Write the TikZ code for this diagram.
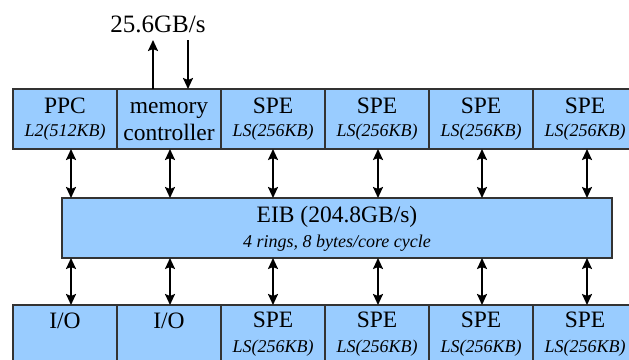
\documentclass[tikz,border=0pt]{standalone}
\usepackage{fontspec}
\setmainfont{Liberation Serif}
\usetikzlibrary{arrows.meta}
\definecolor{boxblue}{HTML}{99CCFF}
\definecolor{edgegray}{HTML}{333333}
\begin{document}
\begin{tikzpicture}[x=1pt,y=-1pt,
  box/.style={draw=edgegray,fill=boxblue,line width=1.2pt,minimum width=104pt,minimum height=60pt,inner sep=0pt,outer sep=0pt,anchor=north west},
  big/.style={font=\fontsize{23.5}{23.5}\selectfont,anchor=base,inner sep=0pt},
  huge/.style={font=\fontsize{25}{25}\selectfont,anchor=base,inner sep=0pt},
  small/.style={font=\fontsize{18}{18}\selectfont\itshape,anchor=base,inner sep=0pt},
  tipd/.tip={Stealth[length=11pt,width=10pt,inset=2pt]},
  dbl/.style={line width=2pt,tipd-tipd},
  sgl/.style={line width=2pt,-tipd}]
\useasboundingbox (0,0) rectangle (629,359);
\fill[white] (0,0) rectangle (629,359);
\clip (0,0) rectangle (629,359);
% top row
\node[box] (p1) at (13,89) {};
\node[box] (p2) at (117,89) {};
\node[box] (p3) at (221,89) {};
\node[box] (p4) at (325,89) {};
\node[box] (p5) at (429,89) {};
\node[box] (p6) at (533,89) {};
% EIB
\node[box,minimum width=550pt] (eib) at (62,198) {};
% bottom row
\node[box] (b1) at (13,305) {};
\node[box] (b2) at (117,305) {};
\node[box] (b3) at (221,305) {};
\node[box] (b4) at (325,305) {};
\node[box] (b5) at (429,305) {};
\node[box] (b6) at (533,305) {};
% top labels
\node[big] (t1) at (65,113) {PPC};
\node[small] (s1) at (65,136) {L2(512KB)};
\node[big] (t2) at (169,113) {memory};
\node[big] (s2) at (169,140) {controller};
\node[big] (t3) at (273,113) {SPE};
\node[small] (s3) at (273,136) {LS(256KB)};
\node[big] (t4) at (377,113) {SPE};
\node[small] (s4) at (377,136) {LS(256KB)};
\node[big] (t5) at (481,113) {SPE};
\node[small] (s5) at (481,136) {LS(256KB)};
\node[big] (t6) at (585,113) {SPE};
\node[small] (s6) at (585,136) {LS(256KB)};
% EIB labels
\node[big] (te) at (337,222) {EIB (204.8GB/s)};
\node[small] (se) at (337,247) {4 rings, 8 bytes/core cycle};
% bottom labels
\node[big] (u1) at (65,328) {I/O};
\node[big] (u2) at (169,328) {I/O};
\node[big] (u3) at (273,327) {SPE};
\node[small] (v3) at (273,352) {LS(256KB)};
\node[big] (u4) at (377,327) {SPE};
\node[small] (v4) at (377,352) {LS(256KB)};
\node[big] (u5) at (481,327) {SPE};
\node[small] (v5) at (481,352) {LS(256KB)};
\node[big] (u6) at (585,327) {SPE};
\node[small] (v6) at (585,352) {LS(256KB)};
% memory bandwidth
\node[huge] (bw) at (158,32) {25.6GB/s};
\coordinate (mu) at (153,40);
\coordinate (md) at (188,40);
\draw[sgl] (p2.north -| mu) -- (mu);
\draw[sgl] (md) -- (p2.north -| md);
% column arrows
\coordinate (a1) at (71,0);
\coordinate (a2) at (170,0);
\coordinate (a3) at (273,0);
\coordinate (a4) at (378,0);
\coordinate (a5) at (482,0);
\coordinate (a6) at (587,0);
\draw[dbl] (p1.south -| a1) -- (eib.north -| a1);
\draw[dbl] (p2.south -| a2) -- (eib.north -| a2);
\draw[dbl] (p3.south -| a3) -- (eib.north -| a3);
\draw[dbl] (p4.south -| a4) -- (eib.north -| a4);
\draw[dbl] (p5.south -| a5) -- (eib.north -| a5);
\draw[dbl] (p6.south -| a6) -- (eib.north -| a6);
\draw[dbl] (eib.south -| a1) -- (b1.north -| a1);
\draw[dbl] (eib.south -| a2) -- (b2.north -| a2);
\draw[dbl] (eib.south -| a3) -- (b3.north -| a3);
\draw[dbl] (eib.south -| a4) -- (b4.north -| a4);
\draw[dbl] (eib.south -| a5) -- (b5.north -| a5);
\draw[dbl] (eib.south -| a6) -- (b6.north -| a6);
\end{tikzpicture}
\end{document}
